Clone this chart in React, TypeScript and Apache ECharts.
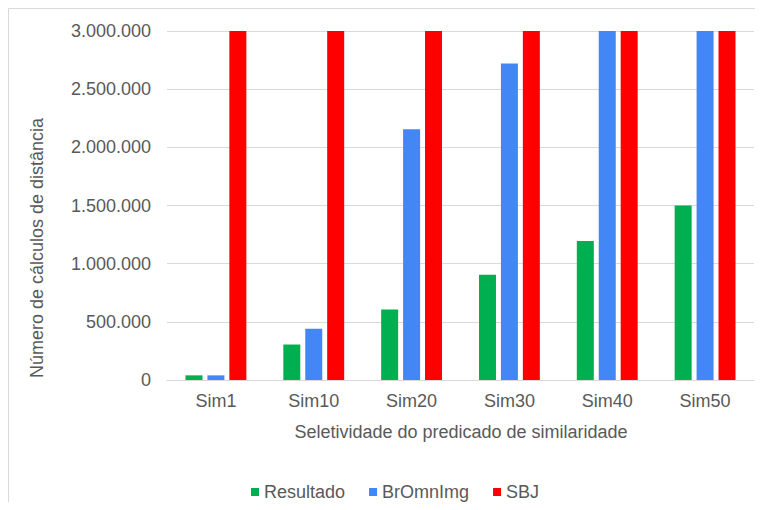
import React, { useEffect, useRef } from "react";
import * as echarts from "echarts";

const categories = ["Sim1", "Sim10", "Sim20", "Sim30", "Sim40", "Sim50"];
const resultado = [40000, 305000, 605000, 905000, 1195000, 1500000];
const brOmnImg = [40000, 440000, 2155000, 2720000, 3000000, 3000000];
const sbj = [3000000, 3000000, 3000000, 3000000, 3000000, 3000000];
const seriesNames = ["Resultado", "BrOmnImg", "SBJ"];
const seriesColors = ["#00b050", "#4287f5", "#ff0000"];

const yTitle = "Número de cálculos de distância";
const xTitle = "Seletividade do predicado de similaridade";

const TEXT = "#595959";
const FONT = "'Liberation Sans', Arial, sans-serif";

// 3000000 -> "3.000.000"
const fmt = (v: number) => String(Math.round(v)).replace(/\B(?=(\d{3})+(?!\d))/g, ".");

export default function App() {
  const ref = useRef<HTMLDivElement>(null);

  useEffect(() => {
    if (!ref.current) return;
    const chart = echarts.init(ref.current, null, { renderer: "svg" });
    const values = [resultado, brOmnImg, sbj];
    chart.setOption({
      animation: false,
      textStyle: { fontFamily: FONT },
      grid: { left: 159, right: 1, top: 23, bottom: 122, containLabel: false },
      legend: {
        left: 238,
        top: 470,
        icon: "rect",
        itemWidth: 8,
        itemHeight: 8,
        itemGap: 24,
        textStyle: { color: TEXT, fontSize: 18, fontFamily: FONT },
        data: seriesNames,
      },
      xAxis: {
        type: "category",
        data: categories,
        axisLine: { show: true, lineStyle: { color: "#d9d9d9", width: 1 } },
        axisTick: { show: false },
        axisLabel: { color: TEXT, fontSize: 18, margin: 12, fontFamily: FONT },
      },
      yAxis: {
        type: "value",
        min: 0,
        max: 3000000,
        interval: 500000,
        axisLine: { show: false },
        axisTick: { show: false },
        axisLabel: { color: TEXT, fontSize: 18, margin: 16, fontFamily: FONT, formatter: fmt },
        splitLine: { lineStyle: { color: "#d9d9d9", width: 1 } },
      },
      series: seriesNames.map((name, i) => ({
        name,
        type: "bar",
        data: values[i],
        barWidth: 17,
        barGap: "29%",
        itemStyle: { color: seriesColors[i] },
      })),
      graphic: [
        {
          type: "rect",
          shape: { x: 0.5, y: 0.5, width: 900, height: 700 },
          style: { fill: "none", stroke: "#d9d9d9", lineWidth: 1 },
          silent: true,
        },
        {
          type: "text",
          x: 29,
          y: 240,
          rotation: Math.PI / 2,
          style: {
            text: yTitle,
            fill: TEXT,
            fontSize: 18,
            fontFamily: FONT,
            align: "center",
            verticalAlign: "middle",
          },
        },
        {
          type: "text",
          x: 453,
          y: 424,
          style: {
            text: xTitle,
            fill: TEXT,
            fontSize: 18,
            fontFamily: FONT,
            align: "center",
            verticalAlign: "middle",
          },
        },
      ],
    });
    return () => chart.dispose();
  }, []);

  return <div ref={ref} style={{ width: 747, height: 494 }} />;
}
